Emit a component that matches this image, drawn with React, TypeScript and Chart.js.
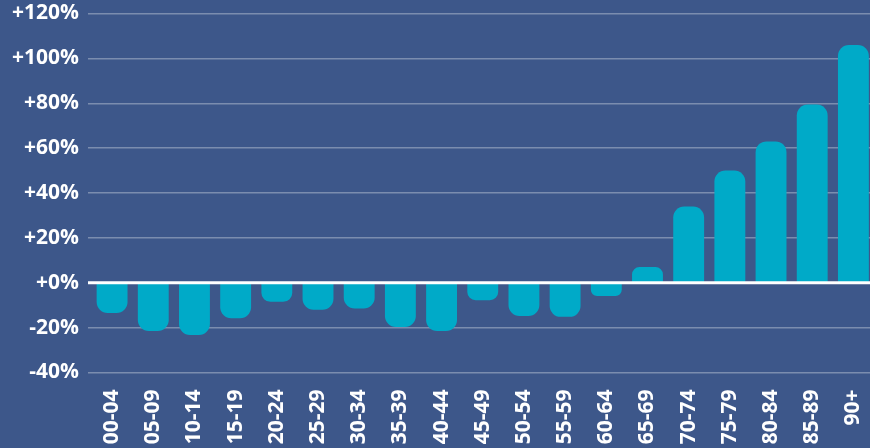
import React, { useEffect, useRef } from "react";
import { Chart, registerables } from "chart.js";

Chart.register(...registerables);

const categories = ["00-04","05-09","10-14","15-19","20-24","25-29","30-34","35-39","40-44","45-49","50-54","55-59","60-64","65-69","70-74","75-79","80-84","85-89","90+"];
const changePct = [-13.5, -21.5, -23.3, -15.8, -8.5, -12, -11.5, -19.7, -21.5, -7.8, -14.8, -15.2, -5.9, 7, 34, 50, 63, 79.4, 106];
const yMin = -40;
const yMax = 120;
const yStep = 20;

const BG = "#3d578a";
const BAR = "#00aac8";
const GRID = "rgba(255,255,255,0.32)";
const FONT = "'Open Sans', sans-serif";

export default function App() {
  const ref = useRef<HTMLCanvasElement | null>(null);
  useEffect(() => {
    if (!ref.current) return;
    const bgPlugin = {
      id: "bg",
      beforeDraw(chart: any) {
        const { ctx, width, height } = chart;
        ctx.save();
        ctx.fillStyle = BG;
        ctx.fillRect(0, 0, width, height);
        ctx.restore();
      },
    };
    const zeroPlugin = {
      id: "zeroLine",
      afterDatasetsDraw(chart: any) {
        const { ctx, chartArea } = chart;
        const y = chart.scales.y.getPixelForValue(0);
        ctx.save();
        ctx.strokeStyle = "#ffffff";
        ctx.lineWidth = 3;
        ctx.beginPath();
        ctx.moveTo(chartArea.left - 3.5, y);
        ctx.lineTo(chartArea.right + 2, y);
        ctx.stroke();
        ctx.restore();
      },
    };
    const chart = new Chart(ref.current, {
      type: "bar",
      data: {
        labels: categories,
        datasets: [
          {
            data: changePct,
            backgroundColor: BAR,
            borderRadius: 11,
            borderSkipped: "start",
            barPercentage: 0.75,
            categoryPercentage: 1,
          },
        ],
      },
      options: {
        animation: false,
        responsive: false,
        maintainAspectRatio: false,
        layout: { padding: { top: 13.5, right: 2, left: 0, bottom: 0 } },
        plugins: { legend: { display: false }, tooltip: { enabled: false } },
        scales: {
          x: {
            grid: { display: false, drawTicks: false },
            border: { display: false },
            ticks: {
              color: "#ffffff",
              font: { family: FONT, size: 21, weight: "bold" },
              maxRotation: 90,
              minRotation: 90,
              autoSkip: false,
              padding: 17,
            },
            afterFit(scale: any) {
              scale.height = 75.5;
              scale.paddingLeft = 0;
              scale.paddingRight = 0;
            },
          },
          y: {
            min: yMin,
            max: yMax,
            grid: {
              color: GRID,
              lineWidth: 1.5,
              drawTicks: true,
              tickLength: 3.5,
              tickColor: GRID,
            },
            border: { display: false },
            ticks: {
              stepSize: yStep,
              color: "#ffffff",
              padding: 9,
              font: { family: FONT, size: 21, weight: "bold" },
              callback: (v: any) => (Number(v) >= 0 ? "+" : "") + v + "%",
            },
            afterFit(scale: any) {
              scale.width = 91.5;
              scale.paddingTop = 0;
              scale.paddingBottom = 0;
            },
          },
        },
      },
      plugins: [bgPlugin, zeroPlugin],
    });
    return () => chart.destroy();
  }, []);
  return (
    <div style={{ position: "fixed", left: 0, top: 0, width: 870, height: 448, overflow: "hidden", background: BG }}>
      <canvas ref={ref} width={876} height={448} style={{ width: 876, height: 448, display: "block" }} />
    </div>
  );
}
